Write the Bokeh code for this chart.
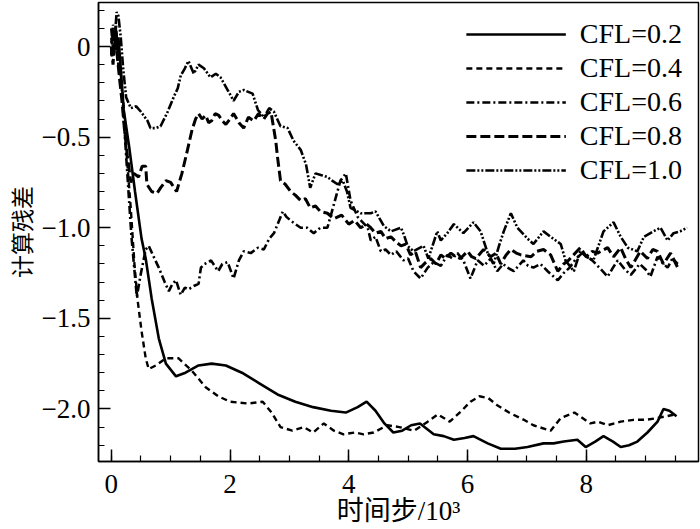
from bokeh.plotting import figure
from bokeh.models import Range1d, FixedTicker, CustomJSTickFormatter
from bokeh.embed import file_html
from bokeh.resources import INLINE

# ---- data ----
x02 = [0.0, 0.04, 0.08, 0.12, 0.16, 0.21, 0.3, 0.4, 0.51, 0.58, 0.68, 0.80, 0.92, 1.09, 1.25, 1.47,
       1.69, 1.93, 2.2, 2.5, 2.8, 3.1, 3.4, 3.7, 3.95, 4.15, 4.3, 4.45, 4.6, 4.75, 4.9, 5.05, 5.2,
       5.43, 5.6, 5.77, 5.95, 6.1, 6.34, 6.56, 6.8, 7.01, 7.28, 7.45, 7.62, 7.85, 7.99, 8.15, 8.29,
       8.45, 8.58, 8.72, 8.86, 9.03, 9.2, 9.3, 9.4, 9.52]
y02 = [0.02, 0.08, -0.02, 0.05, -0.12, -0.35, -0.55, -0.8, -1.06, -1.17, -1.39, -1.61, -1.75, -1.82,
       -1.80, -1.76, -1.75, -1.76, -1.80, -1.86, -1.92, -1.96, -1.99, -2.01, -2.02, -1.99, -1.96,
       -2.01, -2.08, -2.13, -2.12, -2.09, -2.08, -2.14, -2.15, -2.17, -2.16, -2.15, -2.19, -2.22,
       -2.22, -2.21, -2.19, -2.19, -2.18, -2.17, -2.21, -2.18, -2.15, -2.18, -2.21, -2.20, -2.18,
       -2.13, -2.07, -2.00, -2.01, -2.04]

x04 = [0.0, 0.04, 0.08, 0.12, 0.16, 0.2, 0.26, 0.33, 0.39, 0.44, 0.51, 0.58, 0.63, 0.75, 0.92, 1.13,
       1.36, 1.59, 1.8, 2.0, 2.3, 2.55, 2.7, 2.85, 3.05, 3.24, 3.4, 3.58, 3.75, 3.91, 4.1, 4.25,
       4.42, 4.65, 4.85, 5.1, 5.33, 5.5, 5.7, 5.9, 6.05, 6.2, 6.35, 6.5, 6.7, 6.95, 7.11, 7.4,
       7.57, 7.8, 8.07, 8.2, 8.36, 8.58, 8.8, 9.0, 9.2, 9.35, 9.5]
y04 = [0.05, -0.05, 0.1, -0.08, -0.15, -0.3, -0.6, -0.9, -1.2, -1.39, -1.57, -1.72, -1.78, -1.76,
       -1.72, -1.72, -1.79, -1.88, -1.93, -1.96, -1.97, -1.96, -2.02, -2.10, -2.12, -2.10, -2.13,
       -2.08, -2.12, -2.14, -2.13, -2.14, -2.13, -2.09, -2.10, -2.12, -2.07, -2.03, -2.07, -2.01,
       -1.96, -1.93, -1.94, -1.98, -2.02, -2.06, -2.09, -2.12, -2.05, -2.02, -2.08, -2.07, -2.09,
       -2.07, -2.06, -2.06, -2.05, -2.04, -2.03]

x06 = [0.0, 0.04, 0.08, 0.12, 0.17, 0.22, 0.28, 0.34, 0.43, 0.5, 0.58, 0.63, 0.7, 0.8, 0.9, 0.97,
       1.03, 1.09, 1.17, 1.24, 1.3, 1.4, 1.47, 1.51, 1.57, 1.64, 1.68, 1.8, 1.87, 1.96, 2.06, 2.15,
       2.23, 2.35, 2.47, 2.57, 2.66, 2.74, 2.89, 2.95, 3.02, 3.1, 3.19, 3.3, 3.41, 3.52, 3.64, 3.75,
       3.86, 3.95, 4.03, 4.15, 4.32, 4.37, 4.45, 4.54, 4.62, 4.71, 4.8, 4.92, 5.0, 5.09, 5.21, 5.33,
       5.43, 5.55, 5.66, 5.75, 5.83, 5.93, 6.05, 6.17, 6.28, 6.39, 6.5, 6.6, 6.67, 6.78, 6.94, 7.02,
       7.11, 7.23, 7.35, 7.52, 7.62, 7.72, 7.83, 7.93, 8.1, 8.22, 8.36, 8.45, 8.53, 8.65, 8.75, 8.9,
       9.0, 9.08, 9.2, 9.3, 9.37, 9.45, 9.54]
y06 = [0.1, -0.05, 0.12, -0.1, -0.2, -0.45, -0.75, -1.05, -1.38, -1.25, -1.12, -1.10, -1.15, -1.22,
       -1.30, -1.35, -1.31, -1.29, -1.37, -1.33, -1.34, -1.32, -1.31, -1.22, -1.20, -1.19, -1.18,
       -1.24, -1.20, -1.19, -1.28, -1.18, -1.13, -1.14, -1.11, -1.12, -1.06, -1.03, -0.91, -0.94,
       -0.96, -0.98, -1.0, -1.0, -1.03, -1.0, -1.0, -0.87, -0.74, -0.70, -0.85, -0.94, -1.0, -1.07,
       -1.05, -1.13, -1.12, -1.15, -1.13, -1.18, -1.17, -1.24, -1.28, -1.22, -1.19, -1.21, -1.15,
       -1.17, -1.14, -1.18, -1.28, -1.18, -1.21, -1.17, -1.24, -1.20, -1.22, -1.24, -1.18, -1.21,
       -1.22, -1.20, -1.24, -1.29, -1.25, -1.22, -1.17, -1.14, -1.18, -1.22, -1.27, -1.22, -1.18,
       -1.23, -1.26, -1.20, -1.23, -1.27, -1.16, -1.20, -1.22, -1.17, -1.20]

x08 = [0.0, 0.03, 0.06, 0.1, 0.14, 0.18, 0.22, 0.27, 0.33, 0.38, 0.46, 0.52, 0.58, 0.6, 0.68, 0.77,
       0.83, 0.92, 1.0, 1.1, 1.19, 1.27, 1.36, 1.42, 1.47, 1.53, 1.59, 1.64, 1.69, 1.75, 1.81, 1.87,
       1.93, 2.0, 2.06, 2.15, 2.23, 2.31, 2.4, 2.48, 2.57, 2.63, 2.69, 2.77, 2.8, 2.85, 2.93, 3.02,
       3.1, 3.19, 3.27, 3.35, 3.44, 3.52, 3.64, 3.75, 3.88, 4.0, 4.1, 4.2, 4.3, 4.37, 4.45, 4.54,
       4.62, 4.71, 4.8, 4.88, 4.96, 5.04, 5.12, 5.21, 5.3, 5.38, 5.47, 5.55, 5.63, 5.72, 5.8, 5.88,
       6.0, 6.07, 6.14, 6.27, 6.39, 6.48, 6.56, 6.65, 6.73, 6.82, 6.9, 7.07, 7.17, 7.28, 7.4, 7.52,
       7.62, 7.7, 7.9, 8.0, 8.1, 8.19, 8.36, 8.46, 8.58, 8.66, 8.75, 8.91, 9.03, 9.12, 9.2, 9.3,
       9.42, 9.54]
y08 = [0.0, -0.1, 0.08, -0.05, -0.18, -0.3, -0.45, -0.6, -0.75, -0.70, -0.72, -0.66, -0.66, -0.76,
       -0.80, -0.81, -0.78, -0.74, -0.75, -0.80, -0.70, -0.59, -0.46, -0.40, -0.37, -0.40, -0.38,
       -0.42, -0.41, -0.37, -0.38, -0.41, -0.43, -0.40, -0.37, -0.42, -0.45, -0.39, -0.41, -0.37,
       -0.40, -0.37, -0.36, -0.52, -0.61, -0.74, -0.76, -0.80, -0.82, -0.85, -0.84, -0.89, -0.88,
       -0.91, -0.92, -0.95, -0.93, -0.98, -0.96, -1.0, -0.98, -1.0, -1.03, -1.02, -1.06, -1.05,
       -1.08, -1.10, -1.09, -1.15, -1.13, -1.22, -1.19, -1.17, -1.20, -1.15, -1.17, -1.14, -1.16,
       -1.17, -1.13, -1.16, -1.17, -1.12, -1.16, -1.14, -1.20, -1.15, -1.12, -1.14, -1.15, -1.16,
       -1.13, -1.12, -1.15, -1.24, -1.20, -1.18, -1.11, -1.16, -1.13, -1.14, -1.11, -1.16, -1.11,
       -1.17, -1.22, -1.13, -1.17, -1.12, -1.13, -1.20, -1.14, -1.22]

x10 = [0.0, 0.03, 0.06, 0.09, 0.12, 0.16, 0.2, 0.25, 0.33, 0.42, 0.5, 0.61, 0.66, 0.75, 0.83, 0.95,
       1.05, 1.12, 1.17, 1.24, 1.30, 1.39, 1.47, 1.56, 1.67, 1.76, 1.84, 1.96, 2.06, 2.15, 2.23,
       2.38, 2.47, 2.57, 2.66, 2.74, 2.85, 2.97, 3.07, 3.19, 3.28, 3.35, 3.44, 3.54, 3.64, 3.72,
       3.81, 3.9, 3.97, 4.03, 4.2, 4.37, 4.45, 4.59, 4.71, 4.88, 4.93, 4.99, 5.09, 5.26, 5.34, 5.49,
       5.55, 5.66, 5.77, 5.93, 6.1, 6.22, 6.34, 6.44, 6.53, 6.61, 6.73, 6.84, 7.01, 7.11, 7.28, 7.4,
       7.57, 7.65, 7.79, 7.9, 8.0, 8.12, 8.29, 8.46, 8.58, 8.7, 8.86, 8.97, 9.13, 9.25, 9.37, 9.47,
       9.58, 9.7]
y10 = [-0.05, 0.12, 0.05, 0.19, 0.17, 0.05, -0.12, -0.28, -0.34, -0.33, -0.36, -0.41, -0.45, -0.45,
       -0.44, -0.36, -0.28, -0.23, -0.16, -0.12, -0.08, -0.15, -0.10, -0.12, -0.17, -0.15, -0.17,
       -0.24, -0.30, -0.25, -0.24, -0.26, -0.35, -0.39, -0.34, -0.36, -0.44, -0.45, -0.52, -0.57,
       -0.65, -0.78, -0.70, -0.71, -0.72, -0.74, -0.76, -0.74, -0.80, -0.89, -0.92, -0.92, -0.91,
       -0.99, -1.02, -1.0, -1.04, -1.10, -1.13, -1.10, -1.17, -1.02, -1.07, -1.03, -0.98, -1.03,
       -0.97, -1.02, -1.14, -1.20, -1.10, -1.02, -0.92, -1.0, -1.06, -1.09, -1.02, -1.05, -1.09,
       -1.18, -1.24, -1.13, -1.16, -1.18, -1.02, -0.97, -1.05, -1.11, -1.13, -1.05, -1.02, -1.0,
       -1.07, -1.03, -1.02, -1.0]

labels = ["CFL=0.2", "CFL=0.4", "CFL=0.6", "CFL=0.8", "CFL=1.0"]
x_ticks = [0, 2, 4, 6, 8]
y_ticks = [-2.0, -1.5, -1.0, -0.5, 0.0]
x_title = "时间步/10³"
y_title = "计算残差"

serif = "Liberation Serif"
cjk = "'Liberation Serif', 'Noto Sans CJK SC'"

p = figure(width=700, height=529, output_backend="svg", toolbar_location=None,
           x_range=Range1d(-0.215, 9.89), y_range=Range1d(-2.29, 0.243),
           min_border_left=98, min_border_right=2, min_border_top=2, min_border_bottom=68,
           background_fill_color="white", border_fill_color="white")
p.grid.visible = False
p.outline_line_color = "black"
p.outline_line_width = 1.5

series = [(x02, y02, "solid", 2.6), (x04, y04, "6 4", 2.4), (x06, y06, "8 3 2 3", 2.6),
          (x08, y08, "10 4", 3.0), (x10, y10, "9 2 2 2 2 2", 2.6)]
for (xs, ys, dash, w), lab in zip(series, labels):
    p.line(xs, ys, line_color="black", line_width=w, line_dash=dash, legend_label=lab)

p.xaxis.ticker = FixedTicker(ticks=x_ticks, minor_ticks=[v * 0.5 for v in range(0, 20)])
p.yaxis.ticker = FixedTicker(ticks=y_ticks, minor_ticks=[round(-2.2 + 0.1 * i, 1) for i in range(0, 25)])
p.yaxis.formatter = CustomJSTickFormatter(code="""
    if (Math.abs(tick) < 1e-9) return "0";
    return (tick < 0 ? "\u2212" : "") + Math.abs(tick).toFixed(1);
""")

for ax in (p.xaxis, p.yaxis):
    ax.axis_line_color = "black"
    ax.axis_line_width = 1.5
    ax.major_tick_in = 12
    ax.major_tick_out = 0
    ax.minor_tick_in = 6
    ax.minor_tick_out = 0
    ax.major_tick_line_width = 1.5
    ax.minor_tick_line_width = 1.2
    ax.major_label_text_font = serif
    ax.major_label_text_font_size = "27px"
    ax.major_label_text_color = "black"
    ax.axis_label_text_font_style = "normal"
    ax.axis_label_text_color = "black"

p.xaxis.major_label_standoff = 13
p.yaxis.major_label_standoff = 8
p.xaxis.axis_label = x_title
p.xaxis.axis_label_text_font = cjk
p.xaxis.axis_label_text_font_size = "27px"
p.xaxis.axis_label_standoff = 0
p.yaxis.axis_label = y_title
p.yaxis.axis_label_text_font = "Noto Sans CJK SC"
p.yaxis.axis_label_text_font_size = "23px"
p.yaxis.axis_label_standoff = 1

lg = p.legend[0]
lg.location = "top_right"
lg.border_line_alpha = 0
lg.background_fill_alpha = 0
lg.label_text_font = serif
lg.label_text_font_size = "28px"
lg.label_text_color = "black"
lg.glyph_width = 100
lg.glyph_height = 26
lg.label_standoff = 14
lg.spacing = 2
lg.padding = 4
lg.margin = 12

open("out.html", "w").write(file_html(p, INLINE))
